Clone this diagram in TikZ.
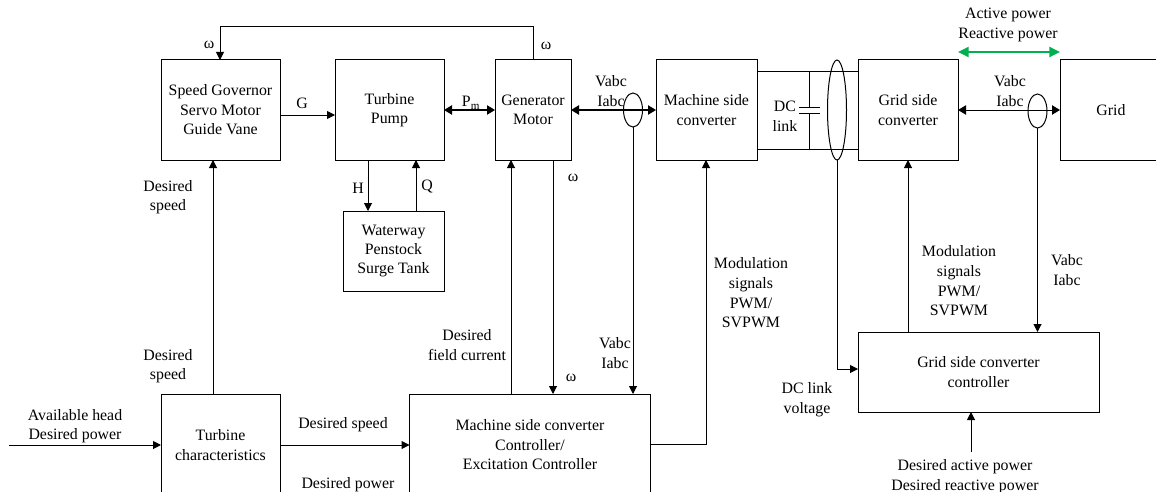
\documentclass[tikz,border=0pt]{standalone}
\usepackage{fontspec}
\setmainfont{Liberation Serif}
\usetikzlibrary{arrows.meta,shapes.geometric}
\tikzset{
  block/.style={draw,line width=0.75pt,align=center,inner sep=0pt,outer sep=0pt,font=\fontsize{11.9}{14.6}\selectfont},
  lab/.style={align=center,inner sep=0pt,yshift=-0.75pt,font=\fontsize{11.9}{14.7}\selectfont},
  sig/.style={line width=0.75pt,-{Triangle[length=6pt,width=6pt]}},
  sigb/.style={line width=1pt,{Triangle[length=6pt,width=7pt]}-{Triangle[length=6pt,width=7pt]}},
  pow/.style={line width=1.7pt,draw={rgb,255:red,0;green,176;blue,80},{Triangle[length=8pt,width=7.5pt]}-{Triangle[length=8pt,width=7.5pt]}},
  sensor/.style={draw,ellipse,line width=0.75pt,inner sep=0pt,outer sep=0pt}
}
\begin{document}
\begin{tikzpicture}[x=0.75pt,y=-0.75pt]
\useasboundingbox (0,0) rectangle (1156,492);
\clip (0,0) rectangle (1156,492);

% upper row
\node[block,minimum width=89.25pt,minimum height=75pt] (gov) at (220.5,110) {Speed Governor\\Servo Motor\\Guide Vane};
\node[block,minimum width=81.75pt,minimum height=75pt] (turb) at (389.5,110) {Turbine\\Pump};
\node[block,minimum width=57pt,minimum height=75pt] (gen) at (533,110) {Generator\\Motor};
\node[block,minimum width=75.75pt,minimum height=75pt] (msc) at (706.5,110) {Machine side\\converter};
\node[block,minimum width=75pt,minimum height=75pt] (gsc) at (908,110) {Grid side\\converter};
\node[block,minimum width=76.5pt,minimum height=75pt] (grid) at (1111,110) {Grid};
\node[block,minimum width=75.75pt,minimum height=60pt] (water) at (393.5,251) {Waterway\\Penstock\\Surge Tank};

% lower row
\node[block,minimum width=89.25pt,minimum height=76.5pt] (tchar) at (220.5,445) {Turbine\\characteristics};
\node[block,minimum width=180.75pt,minimum height=76.5pt] (mctrl) at (530,445) {Machine side converter\\Controller/\\Excitation Controller};
\node[block,minimum width=180.75pt,minimum height=60pt] (gctrl) at (978.5,372) {Grid side converter\\controller};

% current and voltage sensors
\node[sensor,minimum width=14.25pt,minimum height=25.5pt] (ctm) at (633,110) {};
\node[sensor,minimum width=14.25pt,minimum height=25.5pt] (ctg) at (1037.5,111) {};
\node[sensor,minimum width=14.25pt,minimum height=75pt] (ctdc) at (837,110) {};

% feedback on top
\coordinate (fbr) at (533,27);
\coordinate (fbl) at (220,27);
\draw[sig] (gen.north) -- (fbr) -- (fbl) -- (fbl |- gov.north);

% upper row connectors
\draw[sig] (gov.east |- 0,115) -- (turb.west |- 0,115);
\draw[sigb] (turb.east) -- (gen.west);
\draw[sigb] (gen.east) -- (msc.west);
\draw[sigb,line width=0.75pt] (gsc.east) -- (grid.west);
\draw[sig] (368,0 |- turb.south) -- (368,0 |- water.north);
\draw[sig] (416,0 |- water.north) -- (416,0 |- turb.south);
\draw[pow] (gsc.east |- 0,52) -- (grid.west |- 0,52);

% DC link
\coordinate (capa) at (809,72);
\coordinate (capb) at (809,107.5);
\coordinate (capc) at (809,113);
\coordinate (capd) at (809,149);
\draw[line width=0.75pt] (msc.east |- capa) -- (gsc.west |- capa);
\draw[line width=0.75pt] (msc.east |- capd) -- (gsc.west |- capd);
\draw[line width=0.75pt] (capa) -- (capb);
\draw[line width=0.75pt] (capc) -- (capd);
\draw[line width=0.75pt] (799,107.5) -- (820,107.5);
\draw[line width=0.75pt] (799,113) -- (820,113);

% between the rows
\draw[sig] (213,0 |- tchar.north) -- (213,0 |- gov.south);
\draw[sig] (511,0 |- mctrl.north) -- (511,0 |- gen.south);
\draw[sig] (553,0 |- gen.south) -- (553,0 |- mctrl.north);
\draw[sig] (ctm.south) -- (ctm.south |- mctrl.north);
\coordinate (modc) at (706,444);
\draw[sig] (mctrl.east |- modc) -- (modc) -- (modc |- msc.south);
\coordinate (dcv) at (837,369);
\draw[sig] (ctdc.south) -- (dcv) -- (gctrl.west |- dcv);
\draw[sig] (908,0 |- gctrl.north) -- (908,0 |- gsc.south);
\draw[sig] (ctg.south) -- (ctg.south |- gctrl.north);

% inputs
\coordinate (headin) at (9,445);
\coordinate (powin) at (971,452);
\draw[sig] (headin) -- (tchar.west |- headin);
\draw[sig] (tchar.east |- headin) -- (mctrl.west |- headin);
\draw[sig] (powin) -- (powin |- gctrl.south);

% labels
\node[lab] (wa) at (209,44) {ω};
\node[lab] (wb) at (546,45) {ω};
\node[lab] (wc) at (573,177) {ω};
\node[lab] (wd) at (571,377) {ω};
\node[lab] (lg) at (302,102) {G};
\node[lab] (lpm) at (471,102) {P\textsubscript{m}};
\node[lab] (lh) at (358,187) {H};
\node[lab] (lq) at (427,186) {Q};
\node[lab] (lva) at (611,90) {Vabc\\Iabc};
\node[lab] (lvb) at (1010,90) {Vabc\\Iabc};
\node[lab] (lvc) at (615,352) {Vabc\\Iabc};
\node[lab] (lvd) at (1067,269) {Vabc\\Iabc};
\node[lab] (lpow) at (1008,24) {Active power\\Reactive power};
\node[lab] (ldc) at (785,115) {DC\\link};
\node[lab] (lspa) at (168,196) {Desired\\speed};
\node[lab] (lspb) at (168,365) {Desired\\speed};
\node[lab] (lhead) at (75,425) {Available head\\Desired power};
\node[lab] (lspc) at (343,424) {Desired speed};
\node[lab] (lpwr) at (348,484) {Desired power};
\node[lab] (lfield) at (467,344) {Desired\\field current};
\node[lab] (lmoda) at (751,292) {Modulation\\signals\\PWM/\\SVPWM};
\node[lab] (lmodb) at (959,280) {Modulation\\signals\\PWM/\\SVPWM};
\node[lab] (ldcv) at (807,399) {DC link\\voltage};
\node[lab] (lact) at (965,475.5) {Desired active power\\Desired reactive power};
\end{tikzpicture}
\end{document}
